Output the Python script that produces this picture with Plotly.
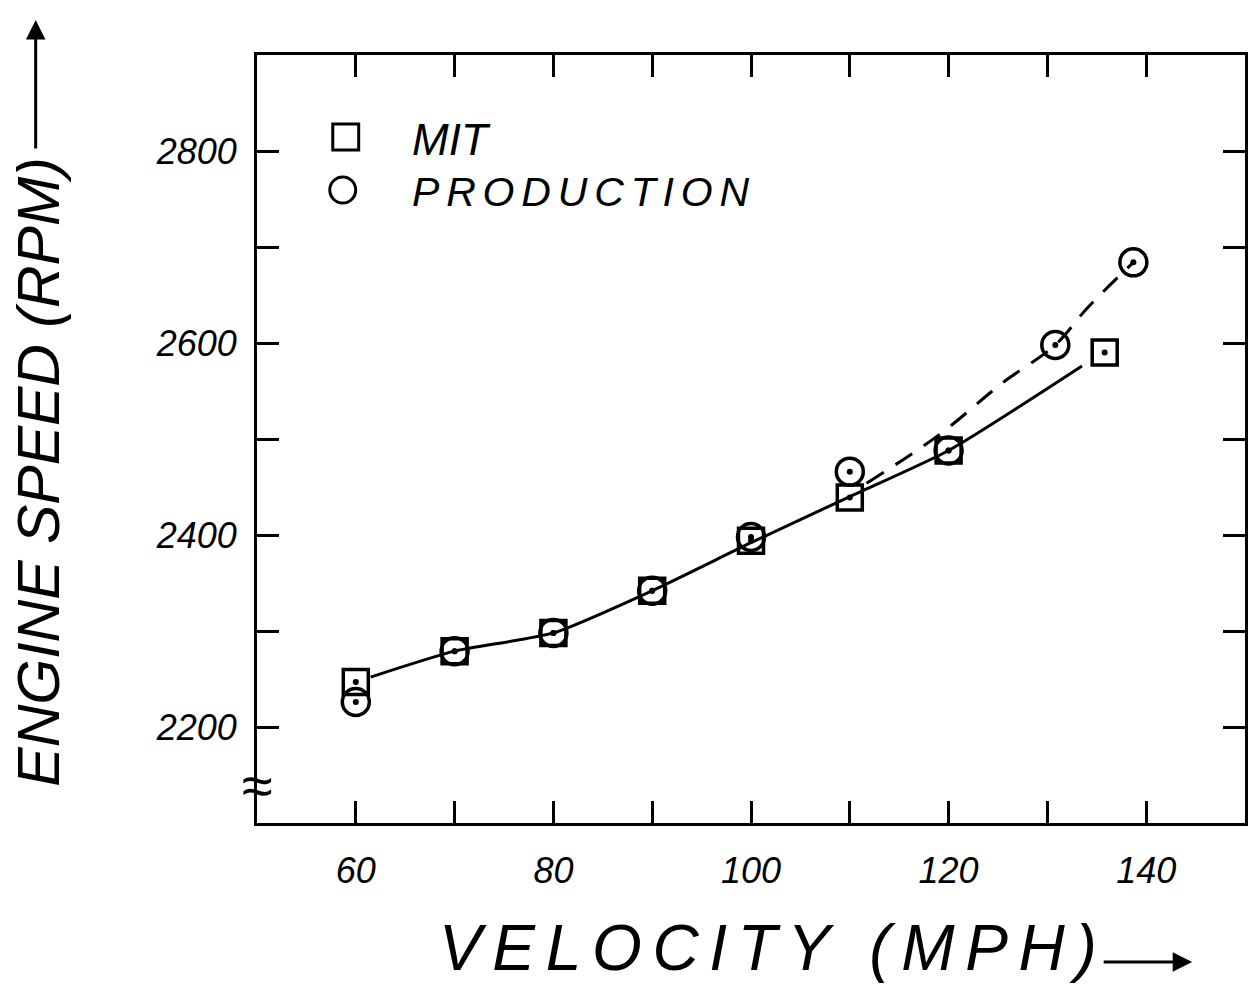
import plotly.graph_objects as go

# ---- data ----
mit_speed = [60, 70, 80, 90, 100, 110, 120, 135.8]
mit_rpm = [2247, 2279, 2298, 2342, 2394, 2439, 2488, 2590]

prod_speed = [60, 70, 80, 90, 100, 110, 120, 130.8, 138.7]
prod_rpm = [2226, 2279, 2298, 2342, 2398, 2466, 2488, 2598, 2684]

# hand-drawn fitted curves
mit_curve_x = [61.5, 70, 80, 90, 100, 110, 120, 133.5]
mit_curve_y = [2252, 2279, 2298, 2342, 2392, 2440, 2488, 2576]
prod_curve_x = [111.7, 119, 125.4, 130.8, 134, 138.7]
prod_curve_y = [2454, 2504, 2558, 2598, 2636, 2684]

x_tick_vals = [60, 80, 100, 120, 140]
x_tick_text = ["60", "80", "100", "120", "140"]
y_tick_vals = [2200, 2400, 2600, 2800]
y_tick_text = ["2200", "2400", "2600", "2800"]

FONT = "Liberation Sans"
INK = "black"
SP = "\u2006"  # six-per-em space used to letter-space the hand lettering

# plot area in pixels (for placing hand-drawn decorations)
L, R, T, B = 257, 1248, 55, 823
PW, PH = R - L, B - T


def px(x):
    return (x - L) / PW


def py(y):
    return (B - y) / PH


def spaced(s):
    return SP.join(list(s))


fig = go.Figure()

fig.add_trace(go.Scatter(x=mit_curve_x, y=mit_curve_y, mode="lines",
                         line=dict(color=INK, width=3, shape="spline", smoothing=0.6),
                         showlegend=False, hoverinfo="skip"))
fig.add_trace(go.Scatter(x=prod_curve_x, y=prod_curve_y, mode="lines",
                         line=dict(color=INK, width=3, shape="spline", dash="20px,14px"),
                         showlegend=False, hoverinfo="skip"))
fig.add_trace(go.Scatter(x=mit_speed, y=mit_rpm, mode="markers", name="MIT",
                         marker=dict(symbol="square-open", size=25, color=INK,
                                     line=dict(width=3.5, color=INK)),
                         showlegend=False))
fig.add_trace(go.Scatter(x=prod_speed, y=prod_rpm, mode="markers", name="PRODUCTION",
                         marker=dict(symbol="circle-open", size=27, color=INK,
                                     line=dict(width=3.5, color=INK)),
                         showlegend=False))
# centre dots of the symbols
fig.add_trace(go.Scatter(x=mit_speed, y=mit_rpm, mode="markers",
                         marker=dict(symbol="circle", size=6, color=INK),
                         showlegend=False, hoverinfo="skip"))
fig.add_trace(go.Scatter(x=prod_speed, y=prod_rpm, mode="markers",
                         marker=dict(symbol="circle", size=6, color=INK),
                         showlegend=False, hoverinfo="skip"))

axis_common = dict(showline=True, linewidth=3, linecolor=INK, mirror="ticks",
                   ticks="inside", ticklen=22, tickwidth=3, tickcolor=INK,
                   showgrid=False, zeroline=False,
                   tickfont=dict(family=FONT, size=36, color=INK))

fig.update_xaxes(range=[50, 150], tickvals=x_tick_vals,
                 ticktext=["<i>%s</i>" % t for t in x_tick_text],
                 minor=dict(dtick=10, tick0=50, ticks="inside", ticklen=22,
                            tickwidth=3, tickcolor=INK, showgrid=False),
                 ticklabelstandoff=14, **axis_common)
fig.update_yaxes(range=[2100, 2900], tickvals=y_tick_vals,
                 ticktext=["<i>%s</i>" % t for t in y_tick_text],
                 minor=dict(dtick=100, tick0=2100, ticks="inside", ticklen=22,
                            tickwidth=3, tickcolor=INK, showgrid=False),
                 ticklabelstandoff=10, **axis_common)

# legend drawn by hand (paper coordinates)
shapes = [
    dict(type="rect", xref="paper", yref="paper",
         x0=px(333), x1=px(359), y0=py(150), y1=py(124),
         line=dict(color=INK, width=3)),
    dict(type="circle", xref="paper", yref="paper",
         x0=px(330), x1=px(356), y0=py(203), y1=py(177),
         line=dict(color=INK, width=3)),
]

annotations = [
    dict(text="<i>MIT</i>", xref="paper", yref="paper",
         x=px(410), y=py(139), xanchor="left", yanchor="middle",
         showarrow=False, font=dict(family=FONT, size=44, color=INK)),
    dict(text="<i>%s</i>" % spaced("PRODUCTION"), xref="paper", yref="paper",
         x=px(410), y=py(192), xanchor="left", yanchor="middle",
         showarrow=False, font=dict(family=FONT, size=41, color=INK)),
    dict(text="<i>ENGINE SPEED (RPM)</i>", xref="paper", yref="paper",
         x=px(38), y=py(472), xanchor="center", yanchor="middle",
         textangle=-90, showarrow=False,
         font=dict(family=FONT, size=59, color=INK)),
    dict(text="<i>%s</i>" % spaced("VELOCITY (MPH)"), xref="paper", yref="paper",
         x=px(770), y=py(948), xanchor="center", yanchor="middle",
         showarrow=False, font=dict(family=FONT, size=64, color=INK)),
    # title arrows
    dict(text="", xref="paper", yref="paper", x=px(35), y=py(20),
         ax=0, ay=130, showarrow=True, arrowhead=2, arrowsize=1.3,
         arrowwidth=3, arrowcolor=INK),
    dict(text="", xref="paper", yref="paper", x=px(1195), y=py(962),
         ax=-90, ay=0, showarrow=True, arrowhead=2, arrowsize=1.3,
         arrowwidth=3, arrowcolor=INK),
    # axis break marks
    dict(text="\u2248", xref="paper", yref="paper", x=px(257), y=py(785),
         xanchor="center", yanchor="middle", showarrow=False,
         font=dict(family=FONT, size=56, color=INK)),
]

fig.update_layout(width=1252, height=990,
                  margin=dict(l=L, r=1252 - R, t=T, b=990 - B),
                  paper_bgcolor="white", plot_bgcolor="white",
                  shapes=shapes, annotations=annotations,
                  font=dict(family=FONT, color=INK))

fig.write_html("out.html")
